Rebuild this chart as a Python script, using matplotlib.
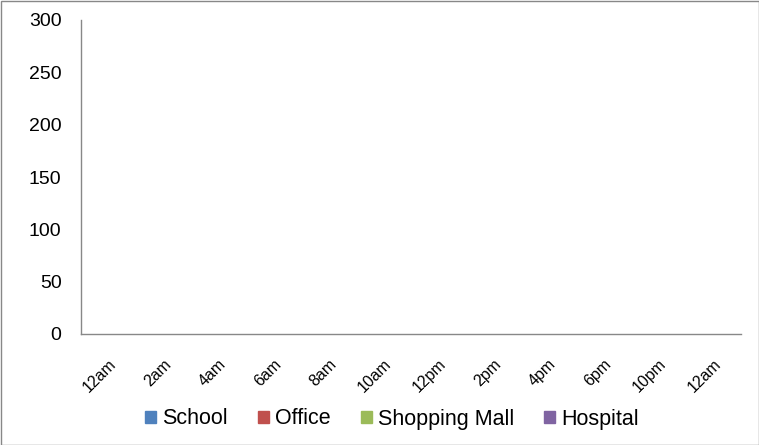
import numpy as np
import matplotlib
matplotlib.use("Agg")
import matplotlib.pyplot as plt
from matplotlib.patches import Rectangle

plt.rcParams['font.family'] = ['Liberation Sans', 'DejaVu Sans']

categories = ["12am", "2am", "4am", "6am", "8am", "10am", "12pm", "2pm", "4pm", "6pm", "10pm", "12am"]
series_names = ["School", "Office", "Shopping Mall", "Hospital"]
series_colors = ["#4F81BD", "#C0504D", "#9BBB59", "#8064A2"]
# The chart has no plotted values: every series is empty
school = [np.nan] * len(categories)
office = [np.nan] * len(categories)
shopping_mall = [np.nan] * len(categories)
hospital = [np.nan] * len(categories)
series_values = [school, office, shopping_mall, hospital]
y_ticks = [0, 50, 100, 150, 200, 250, 300]

fig = plt.figure(figsize=(7.59, 4.45), dpi=100)
ax = fig.add_axes([81/759, 1 - 334/445, (741 - 81)/759, (334 - 20)/445])

x = np.arange(len(categories))
w = 0.18
handles = []
for i, (name, vals, c) in enumerate(zip(series_names, series_values, series_colors)):
    ax.bar(x + (i - 1.5) * w, vals, width=w, color=c, label=name)
    handles.append(Rectangle((0, 0), 1, 1, color=c))

ax.set_xlim(-0.5, len(categories) - 0.5)
ax.set_ylim(0, 300)
ax.set_yticks(y_ticks)
ax.set_yticklabels([str(t) for t in y_ticks], fontsize=14)
ax.set_xticks(x)
ax.set_xticklabels(categories, rotation=45, ha='right', rotation_mode='anchor', fontsize=11.5)
ax.tick_params(axis='both', length=0)
ax.tick_params(axis='y', pad=14)
ax.tick_params(axis='x', pad=16)
for s in ['top', 'right']:
    ax.spines[s].set_visible(False)
for s in ['left', 'bottom']:
    ax.spines[s].set_color('#888888')
    ax.spines[s].set_linewidth(1)

fig.legend(handles, series_names, loc='center', bbox_to_anchor=(392/759, 1 - 419/445),
           ncol=4, frameon=False, fontsize=15.5, handlelength=0.5, handleheight=0.5,
           handletextpad=0.3, columnspacing=1.4)

fig.patches.append(Rectangle((0.5/759, 0.5/445), 1 - 1/759, 1 - 1/445, transform=fig.transFigure,
                             fill=False, edgecolor='#888888', linewidth=1))

fig.savefig("out.png", dpi=100)
